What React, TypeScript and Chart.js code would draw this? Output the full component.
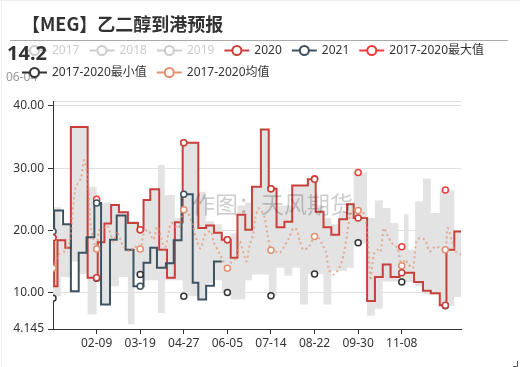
import React, { useEffect, useRef } from 'react';
import { Chart, registerables } from 'chart.js';

Chart.register(...registerables);

// ---------- data (day index within the year, value) ----------
const titleText = '【MEG】乙二醇到港预报';
const watermarkText = '作图：天风期货';
const bigValueText = '14.2';
const bigDateText = '06-04';

const xTickDays = [39, 78, 117, 156, 195, 234, 273, 312];
const xTickLabels = ['02-09', '03-19', '04-27', '06-05', '07-14', '08-22', '09-30', '11-08'];
const yTickValues = [4.145, 10, 20, 30, 40, 40.8];
const yMin = 4.145;
const yMax = 40.8;

const series2020: [number, number][] = [
  [0, 18.8], [1, 11.0], [4, 18.4], [11, 17.2], [16, 36.6], [31, 12.4], [40, 18.1], [46, 21.1],
  [52, 24.1], [59, 22.9], [67, 21.2], [76, 20.1], [81, 24.9], [87, 26.6], [95, 16.9], [102, 12.4],
  [109, 21.3], [116, 34.1], [130, 20.4], [137, 20.8], [144, 19.6], [151, 18.5], [159, 15.6],
  [165, 22.5], [172, 20.1], [178, 27.0], [186, 36.2], [193, 26.7], [200, 20.5], [207, 21.4],
  [214, 27.2], [228, 28.2], [235, 23.0], [242, 20.5], [249, 19.3], [256, 21.8], [263, 24.2],
  [269, 22.0], [281, 8.65], [288, 12.5], [295, 14.5], [302, 12.5], [310, 13.2], [323, 11.7],
  [331, 10.3], [338, 9.9], [346, 7.95], [352, 16.9], [359, 19.8], [365, 19.8],
];

const series2021: [number, number][] = [
  [0, 19.8], [1, 23.2], [9, 21.0], [16, 10.2], [23, 16.4], [30, 18.9], [37, 24.4], [43, 8.1],
  [51, 18.5], [57, 22.4], [65, 16.9], [72, 11.0], [81, 14.8], [87, 17.2], [93, 14.0], [101, 14.7],
  [108, 18.4], [115, 25.8], [125, 11.6], [130, 8.9], [137, 11.1], [144, 15.0], [151, 15.0],
];

// grey band: [start day, high, low]
const bandSteps: [number, number, number][] = [
  [0, 18.8, 9.1], [1, 23.7, 9.4], [7, 21.0, 12.5], [16, 36.6, 15.0], [23, 36.6, 13.0],
  [31, 27.0, 6.5], [39, 25.0, 12.3], [43, 24.5, 8.1], [52, 24.1, 11.0], [59, 23.0, 12.5],
  [67, 21.5, 4.9], [73, 21.5, 12.9], [76, 20.1, 12.9], [81, 24.9, 12.0], [87, 26.6, 12.0],
  [94, 30.5, 6.7], [100, 25.7, 12.0], [109, 22.0, 12.0], [116, 34.1, 9.4], [130, 26.2, 8.9],
  [137, 21.5, 11.5], [144, 21.0, 12.0], [151, 18.5, 10.0], [159, 19.5, 8.9], [165, 24.0, 8.9],
  [172, 24.5, 12.0], [178, 27.0, 12.9], [186, 36.2, 12.9], [193, 26.7, 9.5], [200, 24.0, 14.0],
  [207, 24.0, 12.7], [214, 27.2, 14.0], [221, 27.2, 8.1], [228, 28.3, 13.0], [235, 24.0, 13.0],
  [242, 22.0, 8.1], [249, 21.0, 13.5], [256, 23.0, 13.5], [263, 24.5, 14.0], [269, 29.3, 17.9],
  [281, 22.0, 6.3], [288, 24.8, 7.4], [295, 23.6, 11.8], [302, 21.2, 11.8], [309, 17.4, 11.7],
  [314, 22.6, 11.7], [318, 16.9, 11.7], [324, 24.7, 11.0], [331, 28.3, 9.7], [338, 22.8, 9.7],
  [346, 26.4, 7.9], [359, 19.8, 9.3], [365, 19.8, 9.3],
];

const meanSeries: [number, number][] = [
  [0, 13.9], [5, 16.1], [10, 16.6], [15, 18.2], [20, 26.8], [25, 28.4], [28, 31.3], [31, 28.4],
  [34, 20.4], [39, 17.0], [41, 19.9], [45, 20.4], [49, 20.65], [54, 18.2], [57, 19.85], [63, 17.4],
  [69, 16.6], [73, 17.4], [78, 17.0], [81, 19.3], [85, 20.1], [90, 18.5], [93, 20.6], [97, 18.75],
  [100, 16.9], [103, 19.3], [106, 21.2], [112, 20.35], [117, 23.3], [120, 23.0], [124, 21.4],
  [129, 18.2], [132, 17.1], [136, 19.3], [141, 19.85], [144, 18.0], [148, 16.6], [151, 15.55],
  [156, 13.9], [160, 15.0], [164, 15.55], [167, 18.2], [170, 16.6], [173, 15.0], [176, 17.7],
  [179, 19.3], [181, 21.95], [184, 23.55], [189, 22.2], [192, 19.3], [195, 16.8], [199, 16.6],
  [203, 16.4], [206, 17.2], [211, 18.75], [215, 20.35], [218, 20.1], [221, 18.2], [224, 16.9],
  [229, 17.4], [234, 19.0], [238, 18.75], [241, 17.7], [244, 16.6], [247, 13.7], [251, 12.9],
  [256, 13.95], [260, 16.1], [263, 19.3], [266, 22.5], [269, 23.3], [273, 23.2], [276, 23.0],
  [279, 22.5], [282, 17.7], [284, 12.0], [287, 16.1], [290, 16.9], [293, 16.6], [296, 20.35],
  [299, 19.3], [303, 18.0], [308, 17.2], [312, 14.3], [315, 15.3], [318, 14.5], [322, 13.95],
  [325, 18.2], [328, 18.75], [333, 18.45], [337, 16.6], [342, 17.4], [346, 17.2], [351, 16.9],
  [353, 20.35], [357, 18.2], [360, 16.6], [365, 16.1],
];

const markerDays = [0, 39, 78, 117, 156, 195, 234, 273, 312, 351];
const marker2020 = [18.8, 12.4, 20.1, 34.1, 18.5, 26.7, 28.2, 22.0, 13.2, 7.95];
const marker2021 = [19.8, 24.4, 11.0, 25.8];
const markerMax = [18.8, 25.0, 20.1, 34.1, 18.5, 26.7, 28.3, 29.3, 17.35, 26.5];
const markerMin = [9.1, 12.3, 12.9, 9.4, 10.0, 9.5, 13.0, 18.0, 11.7, 7.9];
const markerMean = [13.9, 17.0, 17.0, 23.3, 13.9, 16.8, 19.0, 23.2, 14.3, 16.9];

// ---------- styles ----------
const c2020 = '#c9403b';
const c2021 = '#3d5261';
const cMax = '#f23b3b';
const cMin = '#333333';
const cMean = '#e2906f';
const cBand = '#e3e3e3';
const FONT = '"Noto Sans", "Noto Sans CJK SC", sans-serif';

const legendEntries = [
  { name: '2017', color: '#cccccc', active: false },
  { name: '2018', color: '#cccccc', active: false },
  { name: '2019', color: '#cccccc', active: false },
  { name: '2020', color: c2020, active: true },
  { name: '2021', color: c2021, active: true },
  { name: '2017-2020最大值', color: cMax, active: true },
  { name: '2017-2020最小值', color: cMin, active: true },
  { name: '2017-2020均值', color: cMean, active: true },
];

const toPts = (arr: [number, number][]) => arr.map(([x, y]) => ({ x, y }));
const markerPts = (vals: number[]) => vals.map((y, i) => ({ x: markerDays[i], y }));

const overlayPlugin = {
  id: 'overlay',
  afterDatasetsDraw(chart: any) {
    const ctx = chart.ctx;
    ctx.save();
    ctx.font = `23px "Noto Sans CJK SC", sans-serif`;
    ctx.fillStyle = 'rgba(0,0,0,0.2)';
    ctx.textBaseline = 'middle';
    ctx.textAlign = 'left';
    ctx.fillText(watermarkText, 192, 204);
    ctx.restore();
  },
  afterDraw(chart: any) {
    const ctx = chart.ctx;
    ctx.save();
    // faint frame
    ctx.strokeStyle = '#eeeeee';
    ctx.lineWidth = 1;
    ctx.beginPath();
    ctx.moveTo(0, 0.5);
    ctx.lineTo(520, 0.5);
    ctx.moveTo(1.5, 0);
    ctx.lineTo(1.5, 367);
    ctx.stroke();
    ctx.strokeStyle = '#555';
    ctx.beginPath();
    ctx.moveTo(517.5, 361);
    ctx.lineTo(517.5, 366.5);
    ctx.lineTo(513, 366.5);
    ctx.stroke();
    // title
    ctx.font = `bold 18px "Noto Sans CJK SC", sans-serif`;
    ctx.fillStyle = '#333';
    ctx.textBaseline = 'alphabetic';
    ctx.textAlign = 'left';
    ctx.fillText(titleText, 22, 31);
    // rule
    ctx.strokeStyle = '#aaaaaa';
    ctx.lineWidth = 1;
    ctx.beginPath();
    ctx.moveTo(10, 40.5);
    ctx.lineTo(508, 40.5);
    ctx.stroke();
    // small date under legend
    ctx.font = `12px ${FONT}`;
    ctx.fillStyle = '#999';
    ctx.textBaseline = 'middle';
    ctx.fillText(bigDateText, 6, 78);
    // legend
    let x = 22;
    let y = 50.5;
    legendEntries.forEach((e, i) => {
      if (i === 6) {
        x = 22;
        y = 72.5;
      }
      ctx.strokeStyle = e.color;
      ctx.lineWidth = 2;
      ctx.beginPath();
      ctx.moveTo(x, y);
      ctx.lineTo(x + 25, y);
      ctx.stroke();
      ctx.beginPath();
      ctx.arc(x + 12.5, y, 4.5, 0, Math.PI * 2);
      ctx.fillStyle = '#fff';
      ctx.fill();
      ctx.stroke();
      ctx.font = `12px ${FONT}`;
      ctx.fillStyle = e.active ? '#333' : '#cccccc';
      ctx.textBaseline = 'middle';
      ctx.fillText(e.name, x + 30, y);
      x += 30 + ctx.measureText(e.name).width + 10;
    });
    // big value
    ctx.font = `bold 20px ${FONT}`;
    ctx.fillStyle = '#333';
    ctx.textBaseline = 'alphabetic';
    ctx.fillText(bigValueText, 7, 60);
    ctx.restore();
  },
};

export default function App() {
  const ref = useRef<HTMLCanvasElement | null>(null);

  useEffect(() => {
    if (!ref.current) return;
    const markerDataset = (label: string, vals: number[], color: string) => ({
      label,
      data: markerPts(vals),
      showLine: false,
      pointRadius: 3,
      pointBorderWidth: 1.5,
      pointBackgroundColor: '#fff',
      pointBorderColor: color,
      borderColor: color,
      order: 1,
    });
    const chart = new Chart(ref.current, {
      type: 'line',
      data: {
        datasets: [
          {
            label: 'bandHigh',
            data: bandSteps.map(([x, hi]) => ({ x, y: hi })),
            stepped: true,
            borderWidth: 1,
            borderColor: 'transparent',
            pointRadius: 0,
            fill: '+1',
            backgroundColor: cBand,
            order: 10,
          },
          {
            label: 'bandLow',
            data: bandSteps.map(([x, , lo]) => ({ x, y: lo })),
            stepped: true,
            borderWidth: 1,
            borderColor: 'transparent',
            pointRadius: 0,
            fill: false,
            order: 10,
          },
          {
            label: '2020',
            data: toPts(series2020),
            stepped: true,
            borderColor: c2020,
            borderWidth: 2,
            pointRadius: 0,
            fill: false,
            order: 4,
          },
          {
            label: '2021',
            data: toPts(series2021),
            stepped: true,
            borderColor: c2021,
            borderWidth: 2,
            pointRadius: 0,
            fill: false,
            order: 3,
          },
          {
            label: '2017-2020均值',
            data: toPts(meanSeries),
            borderColor: 'rgba(226,144,111,0.7)',
            borderWidth: 2,
            borderDash: [2, 3],
            tension: 0.3,
            pointRadius: 0,
            fill: false,
            order: 2,
          },
          markerDataset('m2020', marker2020, c2020),
          markerDataset('m2021', marker2021, c2021),
          markerDataset('mMax', markerMax, cMax),
          markerDataset('mMin', markerMin, cMin),
          markerDataset('mMean', markerMean, cMean),
        ] as any,
      },
      options: {
        animation: false,
        responsive: false,
        events: [],
        layout: { padding: { left: 0, right: 59, top: 101, bottom: 10 } },
        plugins: {
          legend: { display: false },
          tooltip: { enabled: false },
          title: { display: false },
        },
        scales: {
          x: {
            type: 'linear',
            min: 0,
            max: 365,
            afterBuildTicks: (s: any) => {
              s.ticks = xTickDays.map((v) => ({ value: v }));
            },
            afterFit: (s: any) => {
              s.height = 28;
            },
            grid: { drawOnChartArea: false, tickLength: 5, tickColor: '#333' },
            border: { color: '#333' },
            ticks: {
              color: '#333',
              font: { family: FONT, size: 12 },
              padding: 2,
              maxRotation: 0,
              autoSkip: false,
              callback: (v: any) => {
                const i = xTickDays.indexOf(Number(v));
                return i >= 0 ? xTickLabels[i] : '';
              },
            },
          },
          y: {
            type: 'linear',
            min: yMin,
            max: yMax,
            afterBuildTicks: (s: any) => {
              s.ticks = yTickValues.map((v) => ({ value: v }));
            },
            afterFit: (s: any) => {
              s.width = 53;
            },
            grid: {
              color: (c: any) => (c.tick && c.tick.value === yMin ? 'transparent' : '#e0e0e0'),
              tickLength: 5,
              tickColor: (c: any) => (c.tick && c.tick.value === yMax ? 'transparent' : '#333'),
            },
            border: { color: '#333' },
            ticks: {
              color: '#333',
              font: { family: FONT, size: 12 },
              padding: 4,
              callback: (v: any) => {
                const n = Number(v);
                if (n === yMax) return '';
                if (n === yMin) return String(yMin);
                return n.toFixed(2);
              },
            },
          },
        },
      } as any,
      plugins: [overlayPlugin],
    });
    return () => chart.destroy();
  }, []);

  return (
    <div style={{ position: 'fixed', left: 0, top: 0, width: 520, height: 367, background: '#fff' }}>
      <canvas ref={ref} width={520} height={367} style={{ display: 'block' }} />
    </div>
  );
}
